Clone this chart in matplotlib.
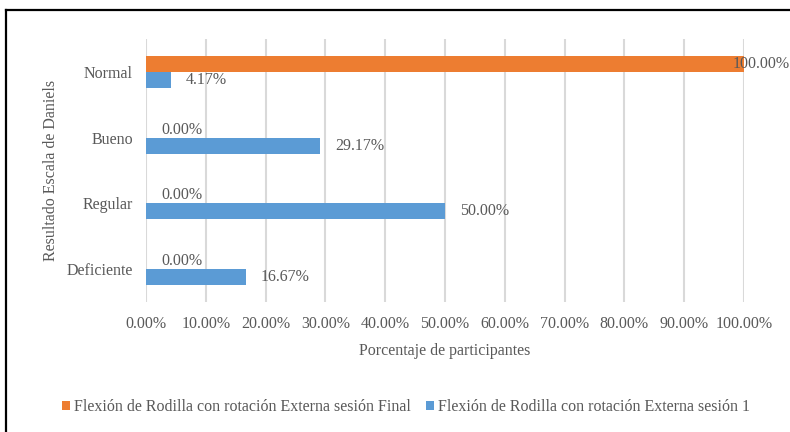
import matplotlib
matplotlib.use("Agg")
import matplotlib.pyplot as plt
from matplotlib.patches import Patch
from matplotlib.lines import Line2D

categories = ["Deficiente", "Regular", "Bueno", "Normal"]
final_vals = [0.00, 0.00, 0.00, 100.00]
sesion1_vals = [16.67, 50.00, 29.17, 4.17]
xticks = [0, 10, 20, 30, 40, 50, 60, 70, 80, 90, 100]
series_names = ["Flexión de Rodilla con rotación Externa sesión Final",
                "Flexión de Rodilla con rotación Externa sesión 1"]

ORANGE = "#ED7D31"
BLUE = "#5B9BD5"
TEXT = "#595959"
GRID = "#D9D9D9"
FS = 11.5

plt.rcParams["font.family"] = ["Liberation Serif", "DejaVu Serif"]

W, H = 790, 432
fig = plt.figure(figsize=(W / 100, H / 100), dpi=100)
ax = fig.add_axes([146 / W, 1 - 302 / H, (744 - 146) / W, (302 - 39) / H])

h = 0.2433
y = list(range(len(categories)))
ax.barh([v + h / 2 for v in y], final_vals, height=h, color=ORANGE, zorder=3)
ax.barh([v - h / 2 for v in y], sesion1_vals, height=h, color=BLUE, zorder=3)

def label(val, ypos):
    # labels sit just past the bar end; the full-width bar keeps its label near the edge
    off = -8.5 if val >= 100 else 10.8
    ax.annotate(f"{val:.2f}%", xy=(val, ypos), xytext=(off, 0),
                textcoords="offset points", ha="left", va="center",
                fontsize=FS, color=TEXT, zorder=4, annotation_clip=False)

for i in y:
    label(final_vals[i], i + h / 2)
    label(sesion1_vals[i], i - h / 2)

ax.set_xlim(0, 100)
ax.set_ylim(-0.5, len(categories) - 0.5)
ax.set_xticks(xticks)
ax.set_xticklabels([f"{t:.2f}%" for t in xticks], fontsize=FS, color=TEXT)
ax.set_yticks(y)
ax.set_yticklabels(categories, fontsize=FS, color=TEXT)
ax.tick_params(axis="both", length=0)
ax.tick_params(axis="x", pad=10)
ax.tick_params(axis="y", pad=9.5)
ax.grid(axis="x", color=GRID, linewidth=1.5, zorder=0)
for s in ax.spines.values():
    s.set_visible(False)

ax.set_xlabel("Porcentaje de participantes", fontsize=FS, color=TEXT, labelpad=8)
ax.set_ylabel("Resultado Escala de Daniels", fontsize=FS, color=TEXT, labelpad=5)

handles = [Patch(facecolor=ORANGE, edgecolor="none"),
           Patch(facecolor=BLUE, edgecolor="none")]
fig.legend(handles, series_names, loc="center", bbox_to_anchor=(406 / W, 1 - 407 / H),
           ncol=2, frameon=False, fontsize=FS, labelcolor=TEXT,
           handlelength=0.5, handleheight=0.5, handletextpad=0.2, columnspacing=1.0)

# outer frame (top and left edges)
fig.add_artist(Line2D([5.5 / W, 1], [1 - 9.5 / H, 1 - 9.5 / H], color="black", linewidth=1.6,
                      transform=fig.transFigure))
fig.add_artist(Line2D([5.5 / W, 5.5 / W], [0, 1 - 9.5 / H], color="black", linewidth=1.6,
                      transform=fig.transFigure))

fig.savefig("out.png", dpi=100)
